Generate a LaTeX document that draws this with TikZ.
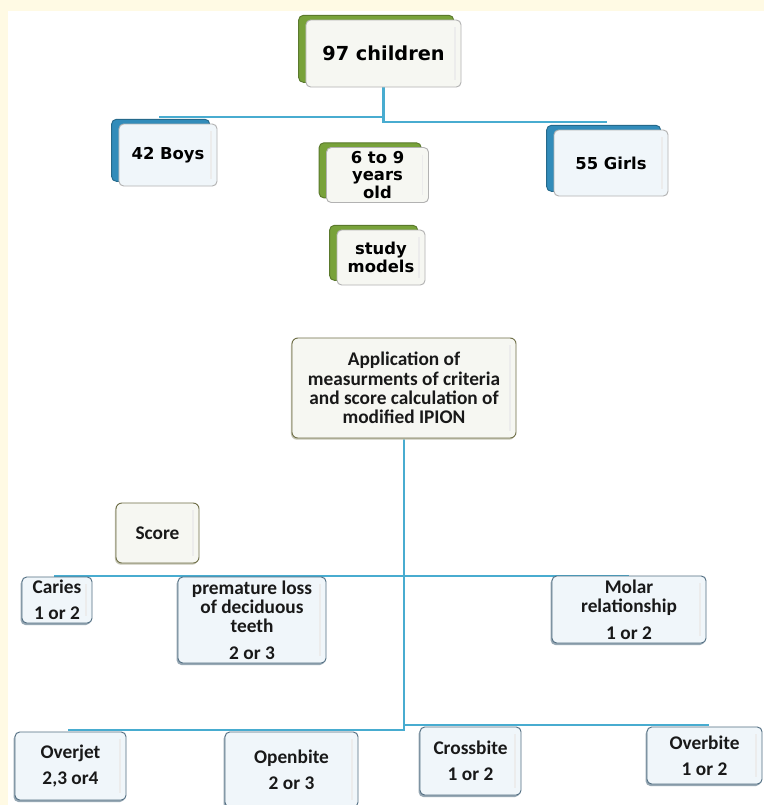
\documentclass[tikz,border=0pt]{standalone}
\usepackage{fontspec}
\setmainfont{Carlito}
\newfontfamily\boxfont{DejaVu Sans}
\usepackage{tikz}
\usetikzlibrary{positioning,shadows,backgrounds}
\usepackage{xcolor}
\definecolor{LeafGreen}{RGB}{120,162,58}
\definecolor{SeaBlue}{RGB}{50,140,186}
\definecolor{LinkBlue}{RGB}{72,172,208}
\definecolor{PaleGrey}{RGB}{246,247,242}
\definecolor{PaleBlue}{RGB}{240,246,250}
\definecolor{OliveEdge}{RGB}{110,110,70}
\definecolor{SlateEdge}{RGB}{82,110,130}
\definecolor{Cream}{RGB}{255,250,228}
\tikzset{
  gloss/.style={path picture={
    \draw[gray!15, line width=1.2pt]
      ([xshift=-5pt, yshift=-6pt]path picture bounding box.north east) --
      ([xshift=-5pt, yshift=6pt]path picture bounding box.south east);}},
  groupbox/.style={draw=gray!60, rounded corners=4pt, fill=PaleGrey,
    thick, inner sep=0pt, align=center, gloss,
    font=\boxfont\bfseries\fontsize{14}{15.3}\selectfont,
    copy shadow={shadow xshift=-0.22cm, shadow yshift=0.14cm,
      fill=LeafGreen, draw=LeafGreen!75!black}},
  genderbox/.style={draw=gray!60, rounded corners=4pt, fill=PaleBlue,
    thick, inner sep=0pt, align=center, gloss,
    font=\boxfont\bfseries\fontsize{14}{15.3}\selectfont,
    copy shadow={shadow xshift=-0.22cm, shadow yshift=0.14cm,
      fill=SeaBlue, draw=SeaBlue!75!black}},
  methodbox/.style={draw=OliveEdge, rounded corners=5pt, fill=PaleGrey,
    thick, inner sep=0pt, align=center, text=black!90, gloss,
    font=\bfseries\fontsize{16.5}{16.5}\selectfont,
    copy shadow={shadow xshift=-0.03cm, shadow yshift=-0.05cm,
      fill=OliveEdge!40, draw=none}},
  criterion/.style={draw=SlateEdge, rounded corners=4pt, fill=PaleBlue,
    thick, inner sep=0pt, align=center, text=black!90, gloss,
    font=\bfseries\fontsize{16.5}{16.5}\selectfont,
    copy shadow={shadow xshift=-0.04cm, shadow yshift=-0.06cm,
      fill=SlateEdge!60, draw=none}},
  link/.style={line width=2.2pt, LinkBlue}
}

\begin{document}
\begin{tikzpicture}[x=0.03cm, y=-0.03cm]
  \useasboundingbox (0,0) rectangle (764,805);
  % children and groups
  \node[groupbox, minimum width=4.65cm, minimum height=2.01cm,
    font=\boxfont\bfseries\fontsize{16.5}{18}\selectfont] (children) at (383.5,53.5) {97 children};
  \node[genderbox, minimum width=2.94cm, minimum height=1.86cm] (boys) at (168,155) {42 Boys};
  \node[groupbox, minimum width=3.06cm, minimum height=1.65cm] (age) at (377.5,175) {6 to 9\\years\\old};
  \node[genderbox, minimum width=3.42cm, minimum height=1.98cm] (girls) at (611,163) {55 Girls};
  \node[groupbox, minimum width=2.64cm, minimum height=1.65cm] (models) at (381,257.5) {study\\models};
  % measurement and score
  \node[methodbox, minimum width=6.72cm, minimum height=3.0cm] (app) at (404,388)
    {Application of\\measurments of criteria\\and score calculation of\\modified IPION};
  \node[methodbox, minimum width=2.49cm, minimum height=1.8cm] (score) at (157.5,533) {Score};
  % criteria
  \node[criterion, minimum width=2.1cm, minimum height=1.38cm] (caries) at (57,600) {Caries\\[6pt]1 or 2};
  \node[criterion, minimum width=4.44cm, minimum height=2.58cm] (loss) at (252,620)
    {premature loss\\of deciduous\\teeth\\[6pt]2 or 3};
  \node[criterion, minimum width=4.62cm, minimum height=2.01cm] (molar) at (629,609.5)
    {Molar\\relationship\\[6pt]1 or 2};
  \node[criterion, minimum width=3.33cm, minimum height=2.04cm] (overjet) at (70.5,766) {Overjet\\[6pt]2,3 or4};
  \node[criterion, minimum width=3.99cm, minimum height=2.25cm] (openbite) at (291.5,769.5) {Openbite\\[6pt]2 or 3};
  \node[criterion, minimum width=3.03cm, minimum height=2.04cm] (crossbite) at (470.5,761) {Crossbite\\[6pt]1 or 2};
  \node[criterion, minimum width=3.45cm, minimum height=1.71cm] (overbite) at (704.5,755.5) {Overbite\\[6pt]1 or 2};
  % ends of the bars
  \coordinate (boysend) at (159,117);
  \coordinate (girlsend) at (607,122);
  \coordinate (cariesend) at (54,576);
  \coordinate (molarend) at (629,576);
  \coordinate (overjetend) at (68,730);
  \coordinate (overbiteend) at (709,725);
  \begin{scope}[on background layer]
    \fill[white] (0,0) rectangle (764,805);
    \fill[Cream] (0,0) rectangle (764,11);
    \fill[Cream] (0,0) rectangle (8,805);
    \draw[link] (children.south) |- (girlsend);
    \draw[link] (boysend) -- (boysend -| children.south);
    \draw[link] (app.south) |- (overjetend);
    \draw[link] (cariesend) -- (molarend);
    \draw[link] (app.south |- overbiteend) -- (overbiteend);
  \end{scope}
\end{tikzpicture}
\end{document}
